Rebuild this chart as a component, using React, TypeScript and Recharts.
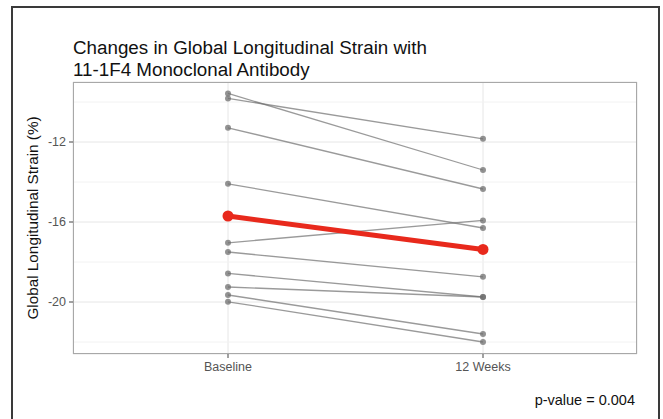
import React from "react";
import { LineChart, Line, XAxis, YAxis, CartesianGrid, ReferenceLine } from "recharts";

// Time points
const timePoints = ["Baseline", "12 Weeks"];

// Individual patient GLS values (%)
const subjects = ["p1", "p2", "p3", "p4", "p5", "p6", "p7", "p8", "p9", "p10"];
const baselineGLS = [-9.57, -9.82, -11.29, -14.09, -17.04, -17.5, -18.57, -19.25, -19.65, -19.99];
const week12GLS = [-13.4, -11.84, -14.35, -16.3, -15.92, -18.74, -19.75, -19.75, -21.6, -22.0];

// Group mean at each time point
const meanGLS = [-15.7, -17.37];

// Axis ticks
const majorTicks = [-20, -16, -12];
const minorTicks = [-22, -18, -14, -10];
const yDomain: [number, number] = [-22.6, -9.0];

// Title lines
const titleLines = ["Changes in Global Longitudinal Strain with", "11-1F4 Monoclonal Antibody"];

const columns = [baselineGLS, week12GLS];
const rows = timePoints.map((t, i) => {
  const row: Record<string, number | string> = { time: t, mean: meanGLS[i] };
  subjects.forEach((s, j) => {
    row[s] = columns[i][j];
  });
  return row;
});

const FONT = "'Liberation Sans', Arial, Helvetica, sans-serif";
const TITLE_SIZE = 18.8;
const TITLE_STEP = 21.6;

export default function App() {
  return (
    <div
      style={{
        position: "absolute",
        left: 0,
        top: 0,
        width: 663,
        height: 419,
        overflow: "hidden",
        background: "#fff",
        fontFamily: FONT,
      }}
    >
      <div
        style={{
          position: "absolute",
          left: 11,
          top: 6,
          width: 649,
          height: 430,
          border: "2px solid #3a3a3a",
          boxSizing: "border-box",
        }}
      />
      {titleLines.map((line, i) => (
        <div
          key={line}
          style={{
            position: "absolute",
            left: 73,
            top: 37.3 + i * TITLE_STEP,
            fontSize: TITLE_SIZE,
            lineHeight: `${TITLE_STEP}px`,
            color: "#111",
            whiteSpace: "nowrap",
          }}
        >
          {line}
        </div>
      ))}
      <div
        style={{
          position: "absolute",
          left: 0,
          top: 0,
          width: 663,
          height: 419,
        }}
      >
        <LineChart
          width={663}
          height={419}
          data={rows}
          margin={{ top: 82, right: 26, bottom: 35, left: 33 }}
        >
          <CartesianGrid stroke="#e6e6e6" strokeWidth={1} />
          {minorTicks.map((v) => (
            <ReferenceLine key={v} y={v} stroke="#f2f2f2" strokeWidth={1} ifOverflow="hidden" />
          ))}
          <XAxis
            dataKey="time"
            padding={{ left: 155, right: 154 }}
            axisLine={false}
            tickSize={4}
            tickMargin={4}
            tickLine={{ stroke: "#444" }}
            tick={{ fill: "#555", fontSize: 12.5, fontFamily: FONT }}
            height={30}
          />
          <YAxis
            type="number"
            domain={yDomain}
            ticks={majorTicks}
            allowDataOverflow
            axisLine={false}
            tickSize={4}
            tickMargin={3}
            tickLine={{ stroke: "#444" }}
            tick={{ fill: "#555", fontSize: 12.5, fontFamily: FONT }}
            width={40}
            label={{
              value: "Global Longitudinal Strain (%)",
              angle: -90,
              position: "insideLeft",
              offset: 0,
              dx: 0,
              style: { fontSize: 15.3, fill: "#111", fontFamily: FONT, textAnchor: "middle" },
            }}
          />
          {subjects.map((s) => (
            <Line
              key={s}
              dataKey={s}
              stroke="#6f6f6f"
              strokeOpacity={0.7}
              strokeWidth={1.3}
              dot={{ r: 3, fill: "#6f6f6f", fillOpacity: 0.75, stroke: "none" }}
              activeDot={false}
              isAnimationActive={false}
            />
          ))}
          <Line
            dataKey="mean"
            stroke="#e8291c"
            strokeWidth={5}
            dot={{ r: 5.5, fill: "#e8291c", stroke: "none" }}
            activeDot={false}
            isAnimationActive={false}
          />
        </LineChart>
      </div>
      <div
        style={{
          position: "absolute",
          left: 73,
          top: 82,
          width: 564,
          height: 272,
          border: "1.5px solid #a8a8a8",
          boxSizing: "border-box",
          pointerEvents: "none",
        }}
      />
      <div
        style={{
          position: "absolute",
          right: 28,
          top: 391,
          fontSize: 14.5,
          lineHeight: "18px",
          color: "#111",
        }}
      >
        p-value = 0.004
      </div>
    </div>
  );
}
